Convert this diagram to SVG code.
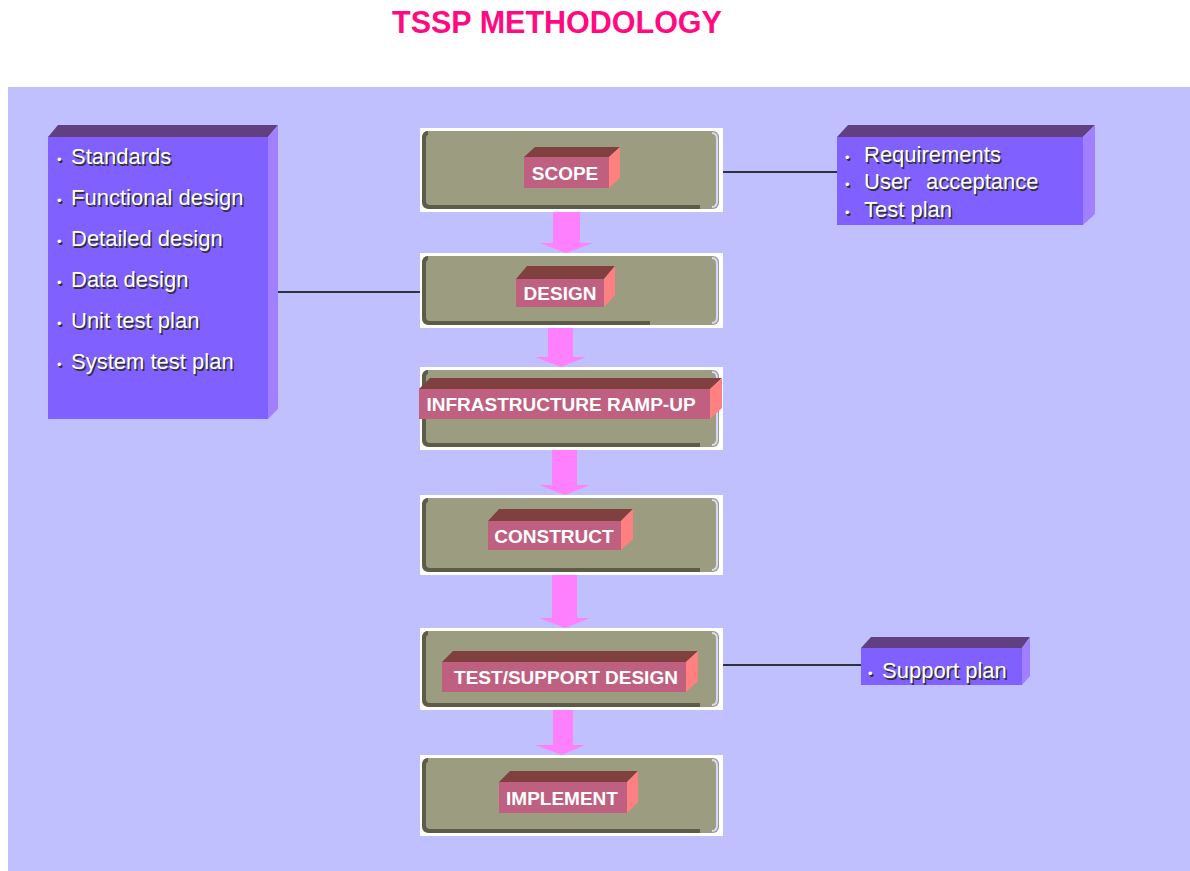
<svg xmlns="http://www.w3.org/2000/svg" width="1190" height="871" viewBox="0 0 1190 871">
<style>
.title{font-family:"Liberation Sans",Arial,sans-serif;font-weight:bold;font-size:30.5px;fill:#ff0a80}
.frame{fill:#ffffff}
.stage{fill:#9c9c80}
.edge{fill:none;stroke:#5c5c48;stroke-width:4}
.brk{fill:none;stroke:#d8d8ff;stroke-width:2}
.lf{fill:#c06080}
.lt{fill:#804040}
.ls{fill:#ff8080}
.lbl{font-family:"Liberation Sans",Arial,sans-serif;font-weight:bold;font-size:19px;fill:#ffffff;text-anchor:middle}
.pf{fill:#8060ff}
.pt{fill:#604080}
.ps{fill:#a080ff}
.note{font-family:"Liberation Sans",Arial,sans-serif;font-size:22px;fill:#ffffff}
.sh{font-family:"Liberation Sans",Arial,sans-serif;font-size:22px;fill:#303030}
.b{font-size:13px}
.arrow{fill:#ff80ff}
.conn{stroke:#000000;stroke-width:1.5;fill:none}
</style>
<rect x="0" y="0" width="1190" height="871" fill="#ffffff"/>
<rect x="8" y="87" width="1182" height="784" fill="#c0c0ff"/>
<text class="title" x="557" y="33" text-anchor="middle">TSSP METHODOLOGY</text>

<g id="connectors">
<path class="arrow" d="M553,212 H580 V243 H593 L566,253 L540,243 H553 Z"/>
<path class="arrow" d="M548,328 H573 V357 H586 L561,367 L535,357 H548 Z"/>
<path class="arrow" d="M552,450 H577 V485 H590 L565,495 L539,485 H552 Z"/>
<path class="arrow" d="M552,575 H577 V618 H590 L565,628 L539,618 H552 Z"/>
<path class="arrow" d="M553,710 H573 V745 H585 L562,755 L535,745 H553 Z"/>
<line class="conn" x1="723" y1="172" x2="837" y2="172"/>
<line class="conn" x1="278" y1="292" x2="420" y2="292"/>
<line class="conn" x1="723" y1="665" x2="861" y2="665" stroke-width="2.5"/>
</g>

<g id="scope">
<rect class="frame" x="420" y="128" width="303" height="84"/>
<rect class="stage" x="422" y="131" width="297" height="78" rx="6"/>
<path class="edge" d="M428,133 Q424,133 424,139 V201 Q424,207 430,207 H700"/>
<path class="brk" d="M712,133 Q717,133 717,139 V201 Q717,207 712,207"/>
<polygon class="lt" points="524,157 535,147 620,147 609,157"/>
<polygon class="ls" points="609,157 620,147 620,178 609,188"/>
<rect class="lf" x="524" y="157" width="85" height="31"/>
<text class="lbl" x="565" y="180">SCOPE</text>
</g>

<g id="design">
<rect class="frame" x="420" y="253" width="303" height="75"/>
<rect class="stage" x="422" y="256" width="297" height="69" rx="6"/>
<path class="edge" d="M428,258 Q424,258 424,264 V317 Q424,323 430,323 H650"/>
<path class="brk" d="M712,258 Q717,258 717,264 V317 Q717,323 712,323"/>
<polygon class="lt" points="516,279 527,266 615,266 604,279"/>
<polygon class="ls" points="604,279 615,266 615,295 604,307"/>
<rect class="lf" x="516" y="279" width="88" height="28"/>
<text class="lbl" x="560" y="300">DESIGN</text>
</g>

<g id="infra">
<rect class="frame" x="420" y="367" width="303" height="83"/>
<rect class="stage" x="422" y="370" width="297" height="77" rx="6"/>
<path class="edge" d="M428,372 Q424,372 424,378 V439 Q424,445 430,445 H700"/>
<path class="brk" d="M712,372 Q717,372 717,378 V439 Q717,445 712,445"/>
<polygon class="lt" points="419,389 430,378 722,378 710,389"/>
<polygon class="ls" points="710,389 722,378 722,408 710,419"/>
<rect class="lf" x="419" y="389" width="291" height="30"/>
<text class="lbl" x="561" y="411">INFRASTRUCTURE RAMP-UP</text>
</g>

<g id="construct">
<rect class="frame" x="420" y="495" width="303" height="80"/>
<rect class="stage" x="422" y="498" width="297" height="74" rx="6"/>
<path class="edge" d="M428,500 Q424,500 424,506 V564 Q424,570 430,570 H700"/>
<path class="brk" d="M712,500 Q717,500 717,506 V564 Q717,570 712,570"/>
<polygon class="lt" points="488,521 499,509 633,509 621,521"/>
<polygon class="ls" points="621,521 633,509 633,539 621,550"/>
<rect class="lf" x="488" y="521" width="133" height="29"/>
<text class="lbl" x="554" y="543">CONSTRUCT</text>
</g>

<g id="testsupport">
<rect class="frame" x="420" y="628" width="303" height="82"/>
<rect class="stage" x="422" y="631" width="297" height="76" rx="6"/>
<path class="edge" d="M428,633 Q424,633 424,639 V699 Q424,705 430,705 H700"/>
<path class="brk" d="M712,633 Q717,633 717,639 V699 Q717,705 712,705"/>
<polygon class="lt" points="442,662 453,651 698,651 686,662"/>
<polygon class="ls" points="686,662 698,651 698,681 686,692"/>
<rect class="lf" x="442" y="662" width="244" height="30"/>
<text class="lbl" x="566" y="684">TEST/SUPPORT DESIGN</text>
</g>

<g id="implement">
<rect class="frame" x="420" y="755" width="303" height="81"/>
<rect class="stage" x="422" y="758" width="297" height="75" rx="6"/>
<path class="edge" d="M428,760 Q424,760 424,766 V825 Q424,831 430,831 H700"/>
<path class="brk" d="M712,760 Q717,760 717,766 V825 Q717,831 712,831"/>
<polygon class="lt" points="499,782 510,771 638,771 627,782"/>
<polygon class="ls" points="627,782 638,771 638,802 627,813"/>
<rect class="lf" x="499" y="782" width="128" height="31"/>
<text class="lbl" x="562" y="805">IMPLEMENT</text>
</g>

<g id="design-notes">
<polygon class="pt" points="48,137 58,125 278,125 268,137"/>
<polygon class="ps" points="268,137 278,125 278,409 268,419"/>
<rect class="pf" x="48" y="137" width="220" height="282"/>
<g class="sh" transform="translate(1.5,1.5)">
<text x="57" y="164"><tspan class="b">•</tspan><tspan x="71">Standards</tspan></text>
<text x="57" y="205"><tspan class="b">•</tspan><tspan x="71">Functional design</tspan></text>
<text x="57" y="246"><tspan class="b">•</tspan><tspan x="71">Detailed design</tspan></text>
<text x="57" y="287"><tspan class="b">•</tspan><tspan x="71">Data design</tspan></text>
<text x="57" y="328"><tspan class="b">•</tspan><tspan x="71">Unit test plan</tspan></text>
<text x="57" y="369"><tspan class="b">•</tspan><tspan x="71">System test plan</tspan></text>
</g>
<g class="note">
<text x="57" y="164"><tspan class="b">•</tspan><tspan x="71">Standards</tspan></text>
<text x="57" y="205"><tspan class="b">•</tspan><tspan x="71">Functional design</tspan></text>
<text x="57" y="246"><tspan class="b">•</tspan><tspan x="71">Detailed design</tspan></text>
<text x="57" y="287"><tspan class="b">•</tspan><tspan x="71">Data design</tspan></text>
<text x="57" y="328"><tspan class="b">•</tspan><tspan x="71">Unit test plan</tspan></text>
<text x="57" y="369"><tspan class="b">•</tspan><tspan x="71">System test plan</tspan></text>
</g>
</g>

<g id="scope-notes">
<polygon class="pt" points="837,137 848,125 1095,125 1083,137"/>
<polygon class="ps" points="1083,137 1095,125 1095,214 1083,225"/>
<rect class="pf" x="837" y="137" width="246" height="88"/>
<g class="sh" transform="translate(1.5,1.5)">
<text x="845" y="162"><tspan class="b">•</tspan><tspan x="864">Requirements</tspan></text>
<text x="845" y="189"><tspan class="b">•</tspan><tspan x="864">User</tspan><tspan x="926">acceptance</tspan></text>
<text x="845" y="217"><tspan class="b">•</tspan><tspan x="864">Test plan</tspan></text>
</g>
<g class="note">
<text x="845" y="162"><tspan class="b">•</tspan><tspan x="864">Requirements</tspan></text>
<text x="845" y="189"><tspan class="b">•</tspan><tspan x="864">User</tspan><tspan x="926">acceptance</tspan></text>
<text x="845" y="217"><tspan class="b">•</tspan><tspan x="864">Test plan</tspan></text>
</g>
</g>

<g id="support-notes">
<polygon class="pt" points="861,648 871,637 1030,637 1022,648"/>
<polygon class="ps" points="1022,648 1030,637 1030,676 1022,685"/>
<rect class="pf" x="861" y="648" width="161" height="37"/>
<text class="sh" x="869.5" y="679.5"><tspan class="b">•</tspan><tspan x="883.5">Support plan</tspan></text>
<text class="note" x="868" y="678"><tspan class="b">•</tspan><tspan x="882">Support plan</tspan></text>
</g>
</svg>
